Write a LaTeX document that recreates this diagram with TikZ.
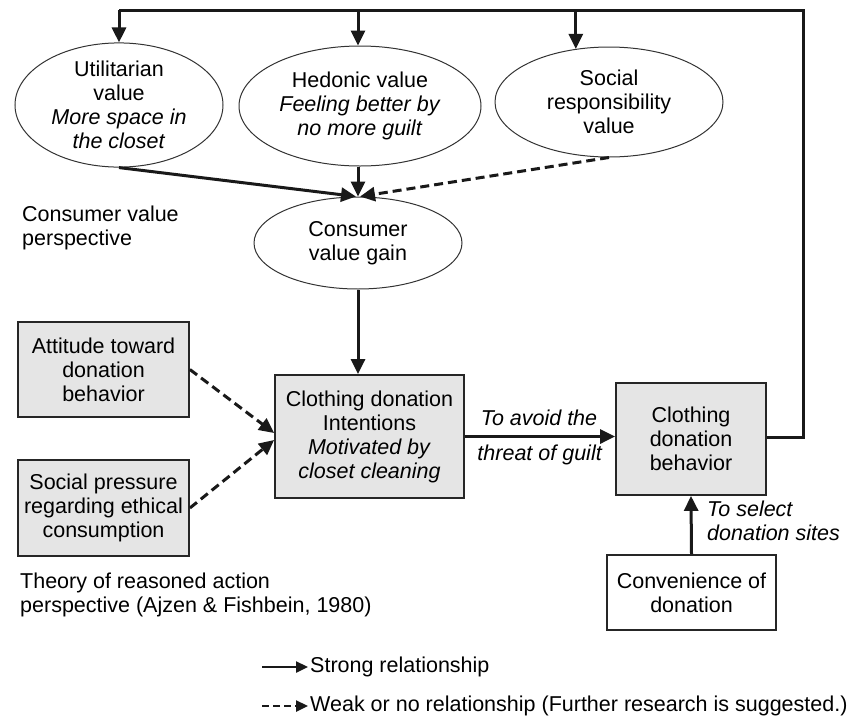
\documentclass[tikz,border=0pt]{standalone}
\usepackage{fontspec}
\setmainfont{Liberation Sans}
\usetikzlibrary{shapes.geometric,arrows.meta}
\begin{document}
\begin{tikzpicture}[x=1pt,y=-1pt,
  font=\fontsize{21.5}{24}\selectfont,
  ell/.style={ellipse,draw=black!80,line width=1pt,inner sep=0pt,align=center},
  gbox/.style={rectangle,draw=black!85,line width=1.8pt,fill=black!10,inner sep=0pt,align=center},
  wbox/.style={rectangle,draw=black!85,line width=1.8pt,fill=white,inner sep=0pt,align=center},
  strong/.style={line width=3pt,draw=black!90,-{Triangle[length=15pt,width=14pt]}},
  weak/.style={strong,dash pattern=on 9pt off 5pt},
  plain/.style={line width=3pt,draw=black!90,line join=miter},
  legs/.style={line width=2.4pt,draw=black!90,-{Triangle[length=12pt,width=11pt]}},
  legw/.style={legs,dash pattern=on 7pt off 4pt},
  lbl/.style={inner sep=0pt,align=left},
]
\useasboundingbox (0,0) rectangle (856,723);

% ellipses
\node[ell,minimum width=208pt,minimum height=120pt] (util) at (119,105)
  {Utilitarian\\value\\\textit{More space in}\\\textit{the closet}};
\node[ell,minimum width=242pt,minimum height=120pt] (hed) at (360,106)
  {Hedonic value\\\textit{Feeling better by}\\\textit{no more guilt}};
\node[ell,minimum width=228pt,minimum height=110pt] (soc) at (609,102)
  {Social\\responsibility\\value};
\node[ell,minimum width=208pt,minimum height=92pt] (cvg) at (358,243)
  {Consumer\\value gain};

% boxes
\node[gbox,minimum width=171pt,minimum height=95pt] (att) at (103.5,369.5)
  {Attitude toward\\donation\\behavior};
\node[gbox,minimum width=171pt,minimum height=96pt] (sp) at (103.5,508)
  {Social pressure\\regarding ethical\\consumption};
\node[gbox,minimum width=189pt,minimum height=123pt] (int) at (369.5,436.5)
  {Clothing donation\\Intentions\\\textit{Motivated by}\\\textit{closet cleaning}};
\node[gbox,minimum width=150pt,minimum height=112pt] (beh) at (691,439)
  {Clothing\\donation\\behavior};
\node[wbox,minimum width=169pt,minimum height=75pt] (conv) at (691.5,592.5)
  {Convenience of\\donation};

% free texts
\node[lbl,anchor=west] (cvp) at (22,228) {Consumer value\\perspective};
\node[lbl,anchor=west] (tra) at (20,595) {Theory of reasoned action\\perspective (Ajzen \& Fishbein, 1980)};
\node[lbl] (avoid) at (539,418) {\textit{To avoid the}};
\node[lbl] (threat) at (540,455) {\textit{threat of guilt}};
\node[lbl,anchor=west] (sel) at (707,521) {\textit{To select}\\\textit{donation sites}};

% feedback loop
\coordinate (fbR) at (803,10);
\draw[plain] ([yshift=2pt]beh.east) -| (fbR) -- (util.north |- fbR);
\draw[strong] (util.north |- fbR) -- (util.north);
\draw[strong] (cvg.north |- fbR) -- (cvg.north |- hed.north);
\draw[strong] (soc.122 |- fbR) -- (soc.122);

% into consumer value gain
\draw[strong] (util.south) -- ([xshift=-2pt]cvg.north);
\draw[strong] (cvg.north |- hed.south) -- (cvg.north);
\draw[weak] (soc.south) -- ([xshift=2pt]cvg.north);

% into intentions
\draw[strong] (cvg.south) -- (int.north -| cvg.south);
\draw[weak] (att.east) -- ([yshift=3.5pt]int.west);
\draw[weak] (sp.east) -- ([yshift=-3.5pt]int.west);

% to behavior
\draw[strong] (int.east) -- (int.east -| beh.west);
\draw[strong] (conv.north) -- (beh.south);

% legend
\node[lbl,anchor=west] (leg1) at (310,667) {Strong relationship};
\node[lbl,anchor=west] (leg2) at (310,706) {Weak or no relationship (Further research is suggested.)};
\draw[legs] ([xshift=-48pt]leg1.west) -- ([xshift=-2pt]leg1.west);
\draw[legw] ([xshift=-48pt]leg2.west) -- ([xshift=-2pt]leg2.west);
\end{tikzpicture}
\end{document}
